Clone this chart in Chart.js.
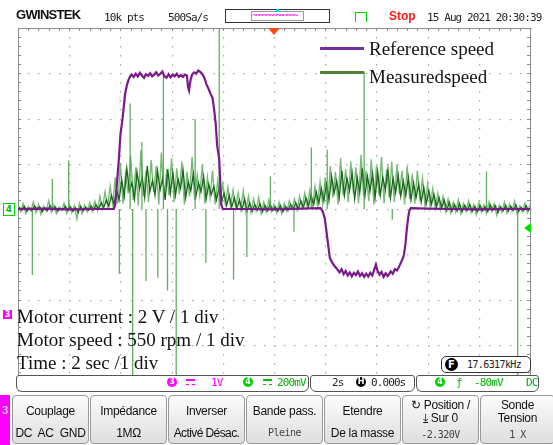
<!DOCTYPE html>
<html lang="fr">
<head>
<meta charset="utf-8">
<script src="https://cdn.jsdelivr.net/npm/chart.js@4/dist/chart.umd.min.js"></script>
<style>
    body { margin: 0; width: 553px; height: 445px; position: relative; overflow: hidden; background: #fff; font-family: "Liberation Sans", Arial, sans-serif; }
    #grafico { position: absolute; left: 0; top: 0; }
    .abs { position: absolute; white-space: nowrap; }
    .mono { font-family: "DejaVu Sans Mono", monospace; font-size: 11px; letter-spacing: -0.9px; color: #222; line-height: 12px; }
    .serif { font-family: "Liberation Serif", "Times New Roman", serif; font-size: 19px; color: #111; line-height: 20px; }
    .circ { position: absolute; top: 377px; width: 10px; height: 10px; border-radius: 50%; color: #fff; font: bold 8px/10px "DejaVu Sans", sans-serif; text-align: center; }
    .caixa { position: absolute; top: 375px; height: 15px; border: 1px solid #555; border-radius: 3px 3px 6px 6px; background: #fff; }
    .dc { position: absolute; top: 379px; width: 9px; height: 3px; border-top: 2px solid; border-bottom: 1px dashed; }
    .botao { position: absolute; top: 395px; height: 47px; border: 1px solid #9a9a9a; border-radius: 4px; background: linear-gradient(#fbfbfb, #dedede); text-align: center; font-size: 12px; letter-spacing: -0.3px; color: #111; line-height: 14px; white-space: nowrap; overflow: hidden; }
    .botao .l1 { margin-top: 8px; }
    .botao .l2 { margin-top: 8px; }
    .botao .m { font-family: "DejaVu Sans Mono", monospace; font-size: 10px; color: #444; letter-spacing: -0.5px; }
</style>
</head>
<body>
<canvas id="grafico" width="553" height="445"></canvas>

<!-- cabeçalho do osciloscópio -->
<div class="abs" style="left:16px;top:7px;font:bold 13px 'Liberation Sans',sans-serif;letter-spacing:-0.7px;color:#111">GWINSTEK</div>
<div class="abs mono" style="left:104px;top:12px">10k pts</div>
<div class="abs mono" style="left:168px;top:12px">500Sa/s</div>
<div class="abs" style="left:225px;top:9px;width:103px;height:12px;border:1px solid #333"></div>
<div class="abs" style="left:251px;top:11px;width:51px;height:8px;border:1px solid #999;overflow:hidden;color:#ff00ff;font:9px/7px 'DejaVu Sans Mono',monospace;letter-spacing:-2px">~~~~~~~~~~~~~</div>
<div class="abs" style="left:276px;top:9px;width:3px;height:3px;background:#00c8ff"></div>
<div class="abs" style="left:355px;top:12px;width:10px;height:9px;border:1px solid #00d000;border-bottom:none"></div>
<div class="abs" style="left:389px;top:9px;font:bold 12px 'Liberation Sans',sans-serif;color:#ff1a1a">Stop</div>
<div class="abs mono" style="left:427px;top:12px">15 Aug 2021 20:30:39</div>

<!-- marcadores dos canais -->
<div class="abs" style="left:268px;top:28px;width:0;height:0;border-left:6px solid transparent;border-right:6px solid transparent;border-top:7px solid #ff4a10"></div>
<div class="abs" style="left:3px;top:203px;width:10px;height:11px;border:1px solid #00d000;background:#fff;color:#00c000;font:bold 9px/11px 'DejaVu Sans',sans-serif;text-align:center">4</div>
<div class="abs" style="left:524px;top:223px;width:0;height:0;border-top:5px solid transparent;border-bottom:5px solid transparent;border-right:7px solid #00e000"></div>
<div class="abs" style="left:3px;top:310px;width:9px;height:9px;background:#ff00ff;color:#fff;font:bold 8px/9px 'DejaVu Sans',sans-serif;text-align:center">3</div>

<!-- legenda -->
<div class="abs" style="left:320px;top:47px;width:44px;height:3px;background:#7030a0"></div>
<div class="abs serif" style="left:369px;top:39px">Reference speed</div>
<div class="abs" style="left:320px;top:71px;width:44px;height:3px;background:#548235"></div>
<div class="abs serif" style="left:369px;top:67px">Measuredspeed</div>

<!-- anotações -->
<div class="abs serif" style="left:17px;top:307px">Motor current : 2 V / 1 div</div>
<div class="abs serif" style="left:17px;top:330px">Motor speed : 550 rpm / 1 div</div>
<div class="abs serif" style="left:17px;top:353px">Time : 2 sec /1 div</div>

<div class="abs" style="left:441px;top:356px;width:88px;height:15px;border:1.5px solid #333;border-radius:5px;background:#fff">
    <div class="abs" style="left:3px;top:1px;width:13px;height:13px;border-radius:50%;background:#000;color:#fff;font:bold 10px/13px 'DejaVu Sans',sans-serif;text-align:center">F</div>
    <div class="abs mono" style="left:25px;top:2px;font-size:10px;letter-spacing:-0.6px">17.6317kHz</div>
</div>

<!-- barra de estado -->
<div class="caixa" style="left:16px;width:291px"></div>
<div class="caixa" style="left:310px;width:103px"></div>
<div class="caixa" style="left:416px;width:121px"></div>
<div class="circ" style="left:167px;background:#ff00ff">3</div>
<div class="dc" style="left:186px;color:#ff00ff"></div>
<div class="abs mono" style="left:211px;top:377px;color:#ff00ff">1V</div>
<div class="circ" style="left:243px;background:#00d000">4</div>
<div class="dc" style="left:263px;color:#00c000"></div>
<div class="abs mono" style="left:277px;top:377px;color:#00b000">200mV</div>
<div class="abs mono" style="left:332px;top:377px">2s</div>
<div class="circ" style="left:356px;background:#000">H</div>
<div class="abs mono" style="left:371px;top:377px">0.000s</div>
<div class="circ" style="left:435px;background:#00d000">4</div>
<div class="abs mono" style="left:456px;top:377px;color:#00c000">ƒ</div>
<div class="abs mono" style="left:474px;top:377px;color:#00b000">-80mV</div>
<div class="abs mono" style="left:526px;top:377px;color:#00b000">DC</div>

<!-- botões do menu -->
<div class="abs" style="left:0;top:395px;width:10px;height:50px;background:#ff00ff;color:#fff;font:11px/30px 'Liberation Sans',sans-serif;text-align:center">3</div>
<div class="botao" style="left:12px;width:75px"><div class="l1">Couplage</div><div class="l2">DC&nbsp; AC&nbsp; GND</div></div>
<div class="botao" style="left:90px;width:75px"><div class="l1">Impédance</div><div class="l2">1MΩ</div></div>
<div class="botao" style="left:168px;width:75px"><div class="l1">Inverser</div><div class="l2" style="letter-spacing:-0.6px">Activé Désac.</div></div>
<div class="botao" style="left:246px;width:75px"><div class="l1">Bande pass.</div><div class="l2 m">Pleine</div></div>
<div class="botao" style="left:324px;width:75px"><div class="l1">Etendre</div><div class="l2">De la masse</div></div>
<div class="botao" style="left:402px;width:75px;line-height:13px"><div style="margin-top:3px">↻ Position /</div><div>⤓ Sur 0</div><div class="m" style="margin-top:3px">-2.320V</div></div>
<div class="botao" style="left:480px;width:73px;line-height:13px"><div style="margin-top:3px">Sonde</div><div>Tension</div><div class="m" style="margin-top:3px">1 X</div></div>

<script>
// escala: 1 div no eixo x = 2 s, 1 div no eixo y conforme o canal
const PASSO_AMOSTRA = 0.05;
const DESLOCAMENTO_ESCURO = 0.025;

// velocidade de referência (roxo): tempo em div e valor em div
const tempoReferencia = [
    0, 0.5, 1.0, 1.5, 1.87, 1.9, 1.93, 1.97, 2.0, 2.04, 2.07, 2.09, 2.13, 2.16, 2.2, 2.22,
    2.26, 2.3, 2.34, 2.38, 2.42, 2.46, 2.5, 2.54, 2.58, 2.62, 2.66, 2.7, 2.74, 2.78, 2.82, 2.86,
    2.9, 2.94, 2.98, 3.02, 3.06, 3.1, 3.14, 3.18, 3.22, 3.26, 3.3, 3.32, 3.34, 3.37, 3.4, 3.44,
    3.48, 3.52, 3.56, 3.6, 3.64, 3.68, 3.72, 3.76, 3.8, 3.83, 3.86, 3.89, 3.91, 3.93, 3.95, 3.97,
    4.0, 4.5, 5.0, 5.5, 5.91, 5.95, 5.99, 6.02, 6.04, 6.07, 6.09, 6.14, 6.19, 6.24, 6.28, 6.32,
    6.36, 6.4, 6.44, 6.48, 6.52, 6.56, 6.6, 6.64, 6.68, 6.72, 6.76, 6.8, 6.84, 6.88, 6.92, 6.96,
    6.99, 7.02, 7.06, 7.1, 7.14, 7.18, 7.22, 7.25, 7.28, 7.32, 7.36, 7.4, 7.44, 7.48, 7.52, 7.54,
    7.57, 7.59, 7.62, 7.64, 7.67, 8.0, 8.5, 9.0, 9.5, 10
];
const velocidadeReferencia = [
    0, 0.01, -0.01, 0, 0, 0.1, 0.54, 1.1, 1.64, 1.98, 2.3, 2.53, 2.75, 2.86, 2.95, 2.97,
    2.92, 2.99, 2.93, 3.01, 2.95, 2.9, 2.98, 2.94, 3.0, 2.93, 2.97, 3.02, 2.95, 2.99, 3.04, 2.93,
    2.9, 2.98, 2.91, 2.97, 2.93, 2.99, 2.92, 2.96, 2.92, 2.97, 2.95, 2.7, 2.62, 2.85, 2.97, 3.02,
    2.99, 3.06, 3.03, 2.98, 2.9, 2.76, 2.66, 2.55, 2.45, 2.2, 1.9, 1.4, 1.25, 1.1, 0.6, 0.1,
    0, 0, -0.01, 0.01, 0.02, -0.05, -0.2, -0.45, -0.64, -0.9, -1.08, -1.19, -1.27, -1.34, -1.4, -1.33,
    -1.44, -1.37, -1.47, -1.4, -1.49, -1.41, -1.46, -1.38, -1.48, -1.42, -1.5, -1.43, -1.49, -1.41, -1.47, -1.33,
    -1.23, -1.36, -1.45, -1.39, -1.5, -1.42, -1.48, -1.44, -1.38, -1.43, -1.33, -1.36, -1.28, -1.18, -1.08, -1.0,
    -0.75, -0.49, -0.2, -0.05, 0.02, 0.01, 0, -0.01, 0, 0
];

// velocidade medida (verde): traço claro, uma amostra a cada 0,05 div
const velocidadeMedidaClaro = [
    0.08, -0.06, 0.12, -0.10, 0.05, -0.04, 0.15, -0.08, 0.10, -0.12, 0.06, -0.05, 0.18, -0.07, 0.09, -0.10, 0.04, -0.03, 0.13, -0.09,
    0.10, -0.08, 0.07, -0.22, 0.12, -0.10, 0.09, -0.06, 0.14, -0.05, 0.17, -0.03, 0.28, 0.02, 0.38, 0.05, 0.50, 0.10, 0.70, 0.12,
    1.02, 0.12, 0.78, 0.35, 1.18, 0.20, 0.92, 0.08, 1.30, 0.28, 0.85, 0.15, 1.08, 0.38, 0.95, 0.10, 1.25, 0.22, 0.80, 0.30,
    1.12, 0.15, 0.90, 0.32, 1.05, 0.10, 0.82, 0.28, 1.15, 0.20, 0.75, 0.30, 0.98, 0.12, 0.70, 0.25, 0.85, 0.10, 0.62, 0.20,
    0.55, 0.10, 0.48, 0.05, 0.42, 0.02, 0.36, 0.00, 0.40, -0.05, 0.28, -0.08, 0.22, -0.04, 0.26, -0.10, 0.15, -0.06, 0.20, -0.05,
    0.10, -0.08, 0.15, -0.10, 0.12, -0.05, 0.18, 0.00, 0.22, -0.02, 0.28, 0.02, 0.35, 0.05, 0.42, 0.06, 0.50, 0.08, 0.60, 0.10,
    0.70, 0.08, 0.95, 0.25, 0.82, 0.10, 1.12, 0.30, 0.88, 0.15, 1.05, 0.35, 0.92, 0.12, 1.20, 0.28, 0.85, 0.18, 1.10, 0.10,
    0.95, 0.30, 1.15, 0.12, 0.88, 0.25, 1.05, 0.15, 0.98, 0.32, 0.85, 0.10, 0.95, 0.22, 0.78, 0.12, 0.85, 0.18, 0.68, 0.05,
    0.55, 0.05, 0.45, 0.02, 0.35, 0.00, 0.28, -0.05, 0.22, -0.08, 0.15, -0.06, 0.20, -0.10, 0.12, -0.05, 0.18, -0.08, 0.10, -0.12,
    0.14, -0.06, 0.09, -0.10, 0.16, -0.05, 0.12, -0.14, 0.08, -0.07, 0.15, -0.09, 0.11, -0.05, 0.17, -0.10, 0.07, -0.06, 0.13, -0.08,
    0.10
];

// velocidade medida (verde): núcleo escuro, intercalado meio passo depois do traço claro
const velocidadeMedidaEscuro = [
    0.04, -0.03, 0.06, -0.05, 0.02, -0.04, 0.07, -0.02, 0.05, -0.06, 0.03, -0.04, 0.08, -0.03, 0.05, -0.05, 0.02, -0.02, 0.06, -0.04,
    0.05, -0.05, 0.03, -0.08, 0.06, -0.04, 0.04, -0.03, 0.07, -0.02, 0.09, 0.00, 0.14, 0.03, 0.20, 0.06, 0.30, 0.10, 0.42, 0.20,
    0.65, 0.28, 0.90, 0.40, 0.58, 0.22, 0.82, 0.45, 0.70, 0.25, 0.95, 0.38, 0.62, 0.30, 0.85, 0.42, 0.68, 0.20, 0.88, 0.35,
    0.80, 0.30, 0.66, 0.45, 0.85, 0.25, 0.60, 0.40, 0.78, 0.28, 0.58, 0.38, 0.72, 0.22, 0.55, 0.32, 0.50, 0.20, 0.45, 0.15,
    0.35, 0.08, 0.30, 0.04, 0.25, 0.02, 0.20, -0.02, 0.22, -0.04, 0.14, -0.05, 0.10, -0.03, 0.12, -0.06, 0.08, -0.04, 0.10, -0.03,
    0.05, -0.05, 0.08, -0.06, 0.06, -0.03, 0.10, 0.00, 0.14, 0.00, 0.18, 0.04, 0.24, 0.06, 0.30, 0.10, 0.38, 0.12, 0.45, 0.18,
    0.55, 0.20, 0.72, 0.35, 0.62, 0.25, 0.85, 0.30, 0.68, 0.40, 0.80, 0.22, 0.70, 0.36, 0.90, 0.28, 0.72, 0.40, 0.78, 0.25,
    0.82, 0.30, 0.70, 0.42, 0.88, 0.25, 0.68, 0.36, 0.75, 0.28, 0.62, 0.30, 0.70, 0.20, 0.58, 0.25, 0.55, 0.15, 0.48, 0.12,
    0.40, 0.10, 0.32, 0.05, 0.25, 0.02, 0.20, -0.03, 0.15, -0.05, 0.10, -0.04, 0.12, -0.06, 0.08, -0.03, 0.10, -0.05, 0.06, -0.06,
    0.08, -0.04, 0.05, -0.06, 0.09, -0.03, 0.07, -0.08, 0.05, -0.04, 0.08, -0.05, 0.06, -0.03, 0.09, -0.06, 0.04, -0.04, 0.07, -0.05
];

// picos isolados do sinal medido: posição em div e extremo em div
const tempoPicos = [0.28, 0.67, 0.99, 1.98, 2.19, 2.24, 2.42, 2.5, 2.73, 2.84, 2.92, 3.09, 3.46, 3.67, 3.93, 4.21, 4.47, 4.93, 5.39, 5.73, 6.04, 6.76, 7.31, 9.15, 9.76];
const extremoPicos = [-1.46, 0.67, 1.07, -1.43, 2.33, -4, 1.48, -1.59, -1.52, 2.97, -1.8, -4, 1.99, -1.19, 4, -1.56, -1.06, 0.72, -0.5, 1.36, 1.31, 3.04, -0.23, 0.83, -4];

window.onload = aoCarregarPagina;

function aoCarregarPagina() {
    const ctx = document.querySelector("#grafico");
    criarGrafico(ctx);
}

function montarPontosUniformes(valores, inicio) {
    return valores.map((valor, i) => ({ x: inicio + i * PASSO_AMOSTRA, y: valor }));
}

function montarPicos() {
    const pontos = [];
    tempoPicos.forEach((t, i) => {
        pontos.push({ x: t, y: 0 });
        pontos.push({ x: t, y: extremoPicos[i] });
        pontos.push({ x: t, y: null });
    });
    return pontos;
}

// grade pontilhada do osciloscópio, desenhada a partir das escalas
const gradeOsciloscopio = {
    id: "gradeOsciloscopio",
    beforeDatasetsDraw(chart) {
        const { ctx, scales: { x, y } } = chart;
        ctx.save();
        ctx.fillStyle = "#a6a6a6";
        for (let div = -4; div <= 4; div++) {
            const py = Math.round(y.getPixelForValue(div));
            for (let t = 0; t <= 50; t++) {
                ctx.fillRect(Math.round(x.getPixelForValue(t / 5)), py, 1.5, 1.2);
            }
        }
        for (let div = 0; div <= 10; div++) {
            const px = Math.round(x.getPixelForValue(div));
            for (let t = -20; t <= 20; t++) {
                ctx.fillRect(px, Math.round(y.getPixelForValue(t / 5)), 1.2, 1.5);
            }
        }
        // moldura com marcas de subdivisão
        const esq = x.getPixelForValue(0), dir = x.getPixelForValue(10);
        const topo = y.getPixelForValue(4), base = y.getPixelForValue(-4);
        ctx.strokeStyle = "#8c8c8c";
        ctx.lineWidth = 1;
        ctx.beginPath();
        ctx.moveTo(esq + 0.5, base);
        ctx.lineTo(esq + 0.5, topo + 0.5);
        ctx.lineTo(dir + 0.5, topo + 0.5);
        ctx.lineTo(dir + 0.5, base);
        for (let t = 0; t <= 50; t++) {
            const px = Math.round(x.getPixelForValue(t / 5)) + 0.5;
            ctx.moveTo(px, topo);
            ctx.lineTo(px, topo + 3);
        }
        for (let t = -20; t <= 20; t++) {
            const py = Math.round(y.getPixelForValue(t / 5)) + 0.5;
            ctx.moveTo(esq, py);
            ctx.lineTo(esq + 3, py);
            ctx.moveTo(dir - 3, py);
            ctx.lineTo(dir, py);
        }
        ctx.stroke();
        ctx.restore();
    }
};

function criarGrafico(ctx) {
    return new Chart(ctx, {
        type: "line",
        data: {
            datasets: [{
                label: "Reference speed",
                data: tempoReferencia.map((t, i) => ({ x: t, y: velocidadeReferencia[i] })),
                borderColor: "#7a1a8a",
                borderWidth: 2.2,
                pointRadius: 0,
                tension: 0
            }, {
                label: "Picos",
                data: montarPicos(),
                borderColor: "rgba(70, 160, 70, 0.85)",
                borderWidth: 1.3,
                pointRadius: 0,
                spanGaps: false
            }, {
                label: "Measuredspeed",
                data: montarPontosUniformes(velocidadeMedidaEscuro, DESLOCAMENTO_ESCURO),
                borderColor: "#1a661a",
                borderWidth: 1.3,
                pointRadius: 0
            }, {
                label: "Measuredspeed (envelope)",
                data: montarPontosUniformes(velocidadeMedidaClaro, 0),
                borderColor: "rgba(105, 178, 105, 0.9)",
                borderWidth: 1.4,
                pointRadius: 0
            }]
        },
        options: {
            responsive: false,
            animation: false,
            layout: { padding: { left: 18, top: 28, right: 23, bottom: 55 } },
            plugins: {
                legend: { display: false },
                tooltip: { enabled: false }
            },
            scales: {
                x: { type: "linear", min: 0, max: 10, display: false },
                y: { type: "linear", min: -4, max: 4, display: false }
            }
        },
        plugins: [gradeOsciloscopio]
    });
}
</script>
</body>
</html>
